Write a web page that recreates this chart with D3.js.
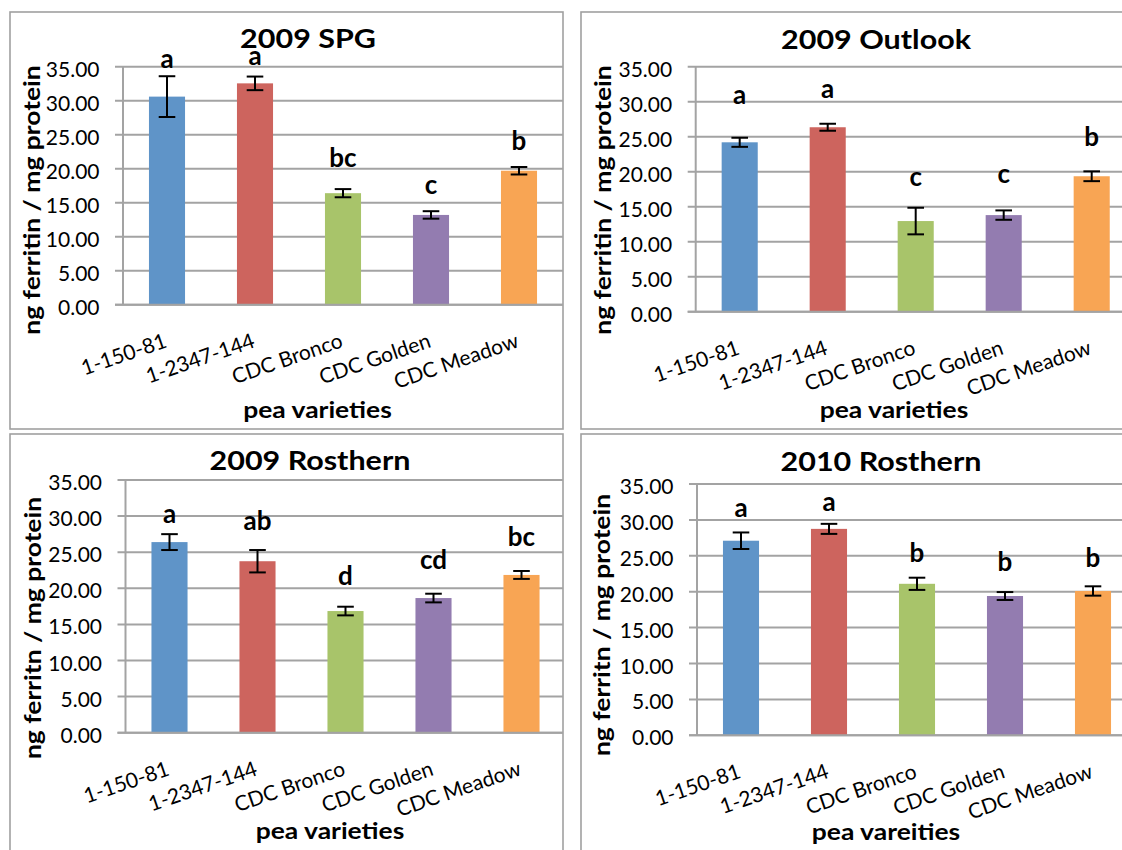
<!DOCTYPE html>
<html><head><meta charset="utf-8">
<script src="https://cdn.jsdelivr.net/npm/d3@7"></script>
<style>body{margin:0;background:#fff}</style>
</head><body>
<svg id="chart" width="1122" height="850" xmlns="http://www.w3.org/2000/svg"></svg>
<script>
// ---------- data ----------
const categories = ["1-150-81", "1-2347-144", "CDC Bronco", "CDC Golden", "CDC Meadow"];
const yTicks = [0, 5, 10, 15, 20, 25, 30, 35];
const yTickLabels = ["0.00", "5.00", "10.00", "15.00", "20.00", "25.00", "30.00", "35.00"];
const panelTitles = ["2009 SPG", "2009 Outlook", "2009 Rosthern", "2010 Rosthern"];
const yAxisTitles = ["ng ferritin / mg protein", "ng ferritin / mg protein", "ng ferritn / mg protein", "ng ferritn / mg protein"];
const xAxisTitles = ["pea varieties", "pea varieties", "pea varieties", "pea vareities"];

const spgMeans   = [30.6, 32.55, 16.4, 13.2, 19.7];
const spgErrors  = [3.0, 1.0, 0.6, 0.55, 0.55];
const spgLetters = ["a", "a", "bc", "c", "b"];
const spgLetterLevel = [34.8, 35.25, 20.3, 16.3, 22.75];

const outlookMeans   = [24.2, 26.35, 12.95, 13.8, 19.35];
const outlookErrors  = [0.65, 0.5, 1.9, 0.67, 0.7];
const outlookLetters = ["a", "a", "c", "c", "b"];
const outlookLetterLevel = [29.7, 30.5, 17.9, 18.4, 23.7];

const ros09Means   = [26.4, 23.75, 16.85, 18.65, 21.85];
const ros09Errors  = [1.1, 1.55, 0.6, 0.6, 0.55];
const ros09Letters = ["a", "ab", "d", "cd", "bc"];
const ros09LetterLevel = [29.0, 28.1, 20.45, 22.7, 25.85];

const ros10Means   = [27.1, 28.75, 21.1, 19.4, 20.1];
const ros10Errors  = [1.15, 0.7, 0.85, 0.55, 0.65];
const ros10Letters = ["a", "a", "b", "b", "b"];
const ros10LetterLevel = [30.4, 31.2, 24.2, 22.9, 23.5];

// ---------- style ----------
const barColors = ["#5f94c8", "#cd645e", "#a8c46a", "#937cb0", "#f8a554"];
const gridColor = "#a3a3a3";
const borderColor = "#a0a0a0";
const fontFam = "Lato, 'Open Sans', sans-serif";
const STRETCH = 1.15;

// ---------- layout (pixels) ----------
const layouts = [
  {bx: 10, by: 12, bw: 553, bh: 417, axisX: 123, y0: 304.7, y35: 66.7, tx: 308, ty: 48, ylx: 40, yly: 200, xlx: 317.5, xly: 418.3},
  {bx: 581, by: 12, bw: 620, bh: 417, axisX: 695.7, y0: 311.7, y35: 66.7, tx: 876, ty: 49.3, ylx: 611, yly: 200, xlx: 894, xly: 418.3},
  {bx: 10, by: 434, bw: 553, bh: 500, axisX: 125.5, y0: 732.7, y35: 480, tx: 310, ty: 470, ylx: 41, yly: 628, xlx: 330, xly: 839.3},
  {bx: 581, by: 434, bw: 620, bh: 500, axisX: 697, y0: 735.3, y35: 484, tx: 881, ty: 470.7, ylx: 610, yly: 625, xlx: 886, xly: 840}
];

const panelsData = [
  {means: spgMeans, errors: spgErrors, letters: spgLetters, levels: spgLetterLevel},
  {means: outlookMeans, errors: outlookErrors, letters: outlookLetters, levels: outlookLetterLevel},
  {means: ros09Means, errors: ros09Errors, letters: ros09Letters, levels: ros09LetterLevel},
  {means: ros10Means, errors: ros10Errors, letters: ros10Letters, levels: ros10LetterLevel}
];

const svg = d3.select("#chart");
svg.append("rect").attr("width", 1122).attr("height", 850).attr("fill", "#fff");

panelsData.forEach((pd, pi) => {
  const L = layouts[pi];
  const g = svg.append("g");
  // border
  g.append("rect").attr("x", L.bx).attr("y", L.by).attr("width", L.bw).attr("height", L.bh)
    .attr("fill", "#fff").attr("stroke", borderColor).attr("stroke-width", 1.6);

  const plotW = 440;
  const right = Math.min(L.axisX + plotW, L.bx + L.bw);
  const x = d3.scaleBand().domain(categories).range([L.axisX, L.axisX + plotW])
    .paddingInner(0.59).paddingOuter(0.295);
  const y = d3.scaleLinear().domain([0, 35]).range([L.y0, L.y35]);

  // gridlines + ticks
  g.selectAll(".grid").data(yTicks).enter().append("line")
    .attr("x1", L.axisX - 8).attr("x2", right)
    .attr("y1", d => y(d)).attr("y2", d => y(d))
    .attr("stroke", gridColor).attr("stroke-width", 2);
  // y axis line
  g.append("line").attr("x1", L.axisX).attr("x2", L.axisX)
    .attr("y1", y(35)).attr("y2", y(0)).attr("stroke", gridColor).attr("stroke-width", 2);

  // tick labels
  g.selectAll(".tl").data(yTicks).enter().append("text")
    .attr("x", L.axisX - 23.5).attr("y", d => y(d) + 10)
    .attr("text-anchor", "end").attr("font-family", fontFam).attr("font-size", 21)
    .attr("fill", "#000").text((d, i) => yTickLabels[i]);

  // bars
  const bw = x.bandwidth();
  g.selectAll(".bar").data(pd.means).enter().append("rect")
    .attr("x", (d, i) => x(categories[i])).attr("width", bw)
    .attr("y", d => y(d)).attr("height", d => y(0) - y(d))
    .attr("fill", (d, i) => barColors[i]);

  // x axis line on top of bars
  g.append("line").attr("x1", L.axisX - 8).attr("x2", right)
    .attr("y1", y(0)).attr("y2", y(0)).attr("stroke", gridColor).attr("stroke-width", 2);

  // error bars
  const cap = 8.3;
  pd.means.forEach((m, i) => {
    const cx = x(categories[i]) + bw / 2;
    const e = pd.errors[i];
    const eg = g.append("g").attr("stroke", "#000").attr("stroke-width", 2);
    eg.append("line").attr("x1", cx).attr("x2", cx).attr("y1", y(m + e)).attr("y2", y(m - e));
    eg.append("line").attr("x1", cx - cap).attr("x2", cx + cap).attr("y1", y(m + e)).attr("y2", y(m + e));
    eg.append("line").attr("x1", cx - cap).attr("x2", cx + cap).attr("y1", y(m - e)).attr("y2", y(m - e));
  });

  // significance letters
  g.selectAll(".let").data(pd.letters).enter().append("text")
    .attr("x", (d, i) => x(categories[i]) + bw / 2)
    .attr("y", (d, i) => y(pd.levels[i]))
    .attr("text-anchor", "middle").attr("font-family", fontFam).attr("font-weight", "bold")
    .attr("font-size", 26).attr("fill", "#000").text(d => d);

  // category labels
  g.selectAll(".cat").data(categories).enter().append("text")
    .attr("transform", d => `translate(${x(d) + bw / 2 + 1},${L.y0 + 42}) rotate(-19)`)
    .attr("text-anchor", "end").attr("font-family", fontFam).attr("font-size", 21)
    .attr("fill", "#000").text(d => d);

  // title
  g.append("text").attr("transform", `translate(${L.tx},${L.ty}) scale(${STRETCH},1)`)
    .attr("text-anchor", "middle").attr("font-family", fontFam).attr("font-weight", "bold")
    .attr("font-size", 26.5).attr("fill", "#000").text(panelTitles[pi]);

  // y axis title
  g.append("text").attr("transform", `translate(${L.ylx},${L.yly}) rotate(-90) scale(${STRETCH},1)`)
    .attr("text-anchor", "middle").attr("font-family", fontFam).attr("font-weight", "bold")
    .attr("font-size", 23).attr("fill", "#000").text(yAxisTitles[pi]);

  // x axis title
  g.append("text").attr("transform", `translate(${L.xlx},${L.xly}) scale(${STRETCH},1)`)
    .attr("text-anchor", "middle").attr("font-family", fontFam).attr("font-weight", "bold")
    .attr("font-size", 23).attr("fill", "#000").text(xAxisTitles[pi]);
});
</script>
</body></html>
